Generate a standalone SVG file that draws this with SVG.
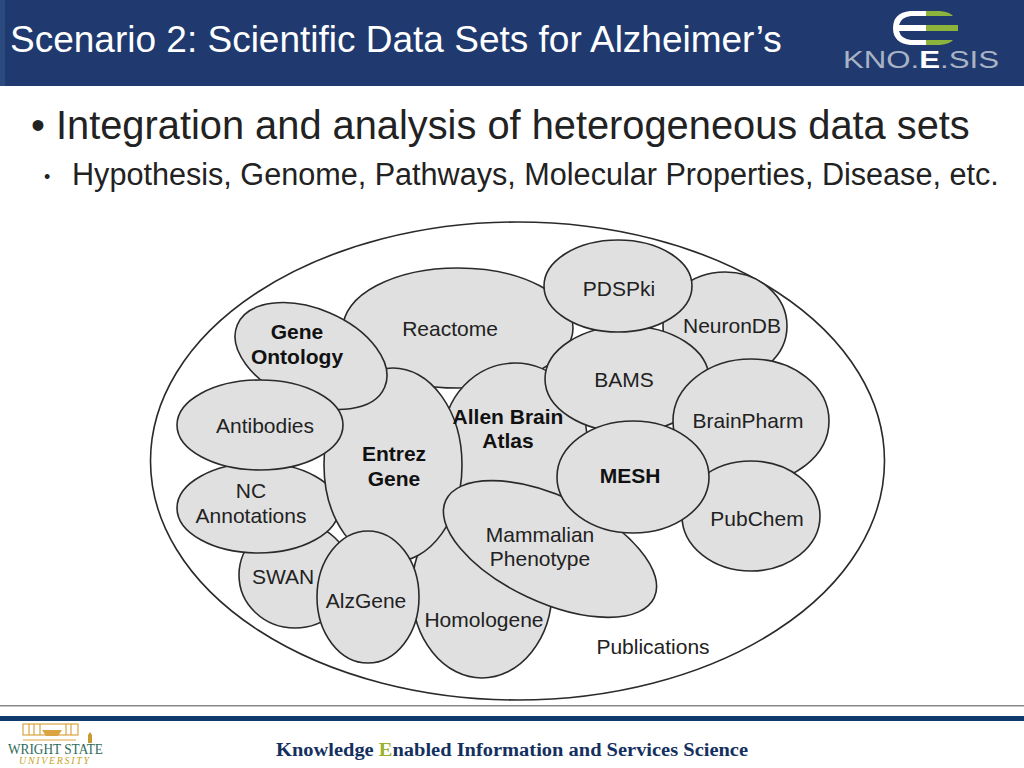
<svg xmlns="http://www.w3.org/2000/svg" width="1024" height="768" viewBox="0 0 1024 768">
<style>
text{font-family:"Liberation Sans",Arial,sans-serif;fill:#222}
.n ellipse{fill:#e0e0e0;stroke:#2a2a2a;stroke-width:1.6}
.l{font-size:21px;text-anchor:middle}
.b{font-size:21px;font-weight:bold;text-anchor:middle;fill:#111}
</style>
<rect width="1024" height="768" fill="#fff"/>
<g id="header">
<rect width="1024" height="86" fill="#203a70"/>
<rect width="5" height="86" fill="#2a4a80"/>
<text x="10" y="52" font-size="37" style="fill:#fff">Scenario 2: Scientific Data Sets for Alzheimer’s</text>
</g>
<g id="kno-logo">
<path d="M926 11H910Q893 13 893 28Q893 43 910 45H926V40H911Q901 39 899 31H926V25H899Q901 17 911 16H926Z" fill="#fff"/>
<path d="M926 11H940Q950 12 953 16H926ZM926 25H958V31H926ZM926 40H953Q950 44 940 45H926Z" fill="#8cb33c"/>
<text x="843" y="68" font-size="24" textLength="156" lengthAdjust="spacingAndGlyphs" style="fill:#a9b3c4">KNO.<tspan style="fill:#fff;font-weight:bold">E</tspan>.SIS</text>
</g>
<g id="bullets">
<text x="31" y="139" font-size="39.8">• Integration and analysis of heterogeneous data sets</text>
<text x="44" y="183" font-size="18">•</text>
<text x="72" y="185" font-size="30.6">Hypothesis, Genome, Pathways, Molecular Properties, Disease, etc.</text>
</g>
<g class="n">
<ellipse id="publications-shape" cx="517.5" cy="461" rx="367" ry="239" style="fill:#fff"/>
<g id="reactome"><ellipse cx="458" cy="328" rx="115" ry="60"/><text class="l" x="450" y="336">Reactome</text></g>
<g id="neurondb"><ellipse cx="725" cy="326" rx="62" ry="54"/></g>
<g id="swan"><ellipse cx="295" cy="575" rx="56" ry="53"/><text class="l" x="283" y="584">SWAN</text></g>
<g id="nc-annotations"><ellipse cx="258" cy="508" rx="81" ry="45"/><text class="l" x="251" y="498">NC</text><text class="l" x="251" y="523">Annotations</text></g>
<g id="homologene"><ellipse cx="482" cy="590" rx="70" ry="88"/><text class="l" x="484" y="627">Homologene</text></g>
<g id="allen-brain-atlas"><ellipse cx="515" cy="440" rx="72" ry="77"/></g>
<g id="entrez-gene"><ellipse cx="393" cy="465" rx="69" ry="97"/><text class="b" x="394" y="461">Entrez</text><text class="b" x="394" y="486">Gene</text></g>
<text class="b" x="508" y="424">Allen Brain</text><text class="b" x="508" y="448">Atlas</text>
<g id="gene-ontology"><ellipse cx="311" cy="356" rx="80" ry="47" transform="rotate(23 311 356)"/><text class="b" x="297" y="339">Gene</text><text class="b" x="297" y="364">Ontology</text></g>
<g id="antibodies"><ellipse cx="260" cy="425" rx="83" ry="45"/><text class="l" x="265" y="433">Antibodies</text></g>
<g id="alzgene"><ellipse cx="368" cy="597" rx="51" ry="66"/><text class="l" x="366" y="608">AlzGene</text></g>
<g id="bams"><ellipse cx="627" cy="379" rx="82" ry="53"/><text class="l" x="624" y="387">BAMS</text></g>
<g id="pdspki"><ellipse cx="618" cy="286" rx="74" ry="46"/><text class="l" x="619" y="296">PDSPki</text></g>
<text class="l" x="732" y="333">NeuronDB</text>
<g id="brainpharm"><ellipse cx="751" cy="421" rx="78" ry="62"/><text class="l" x="748" y="428">BrainPharm</text></g>
<g id="pubchem"><ellipse cx="751" cy="516" rx="69" ry="55"/><text class="l" x="757" y="526">PubChem</text></g>
<g id="mammalian-phenotype"><ellipse cx="550" cy="549" rx="115" ry="53" transform="rotate(25 550 549)"/><text class="l" x="540" y="542">Mammalian</text><text class="l" x="540" y="566">Phenotype</text></g>
<g id="mesh"><ellipse cx="633" cy="477" rx="76" ry="56"/><text class="b" x="630" y="483">MESH</text></g>
<text class="l" x="653" y="654">Publications</text>
</g>
<g id="footer">
<rect y="705" width="1024" height="1.5" fill="#888"/>
<rect y="716" width="1024" height="5" fill="#0f3a6e"/>
<g fill="none" stroke="#d9a441" stroke-width="1.2"><rect x="23" y="724" width="55" height="11"/><path d="M29 724V735M34 724V735M40 724V735M66 724V735M71 724V735M23 740H76"/></g>
<path d="M42 730H62L58 736H46Z" fill="#d9a441"/>
<path d="M88 743V735L90 732L92 735V743Z" fill="#c99a30"/>
<text x="8" y="754" font-size="14" textLength="95" lengthAdjust="spacingAndGlyphs" style="font-family:'Liberation Serif',serif;fill:#2f6b5c">WRIGHT STATE</text>
<text x="19" y="764" font-size="10" textLength="70" lengthAdjust="spacing" style="font-family:'Liberation Serif',serif;font-style:italic;fill:#c9a227">UNIVERSITY</text>
<text x="276" y="756" font-size="18" textLength="472" lengthAdjust="spacingAndGlyphs" style="font-family:'Liberation Serif',serif;font-weight:bold;fill:#14305f">Knowledge <tspan style="fill:#9ab030">E</tspan>nabled Information and Services Science</text>
</g>
</svg>
